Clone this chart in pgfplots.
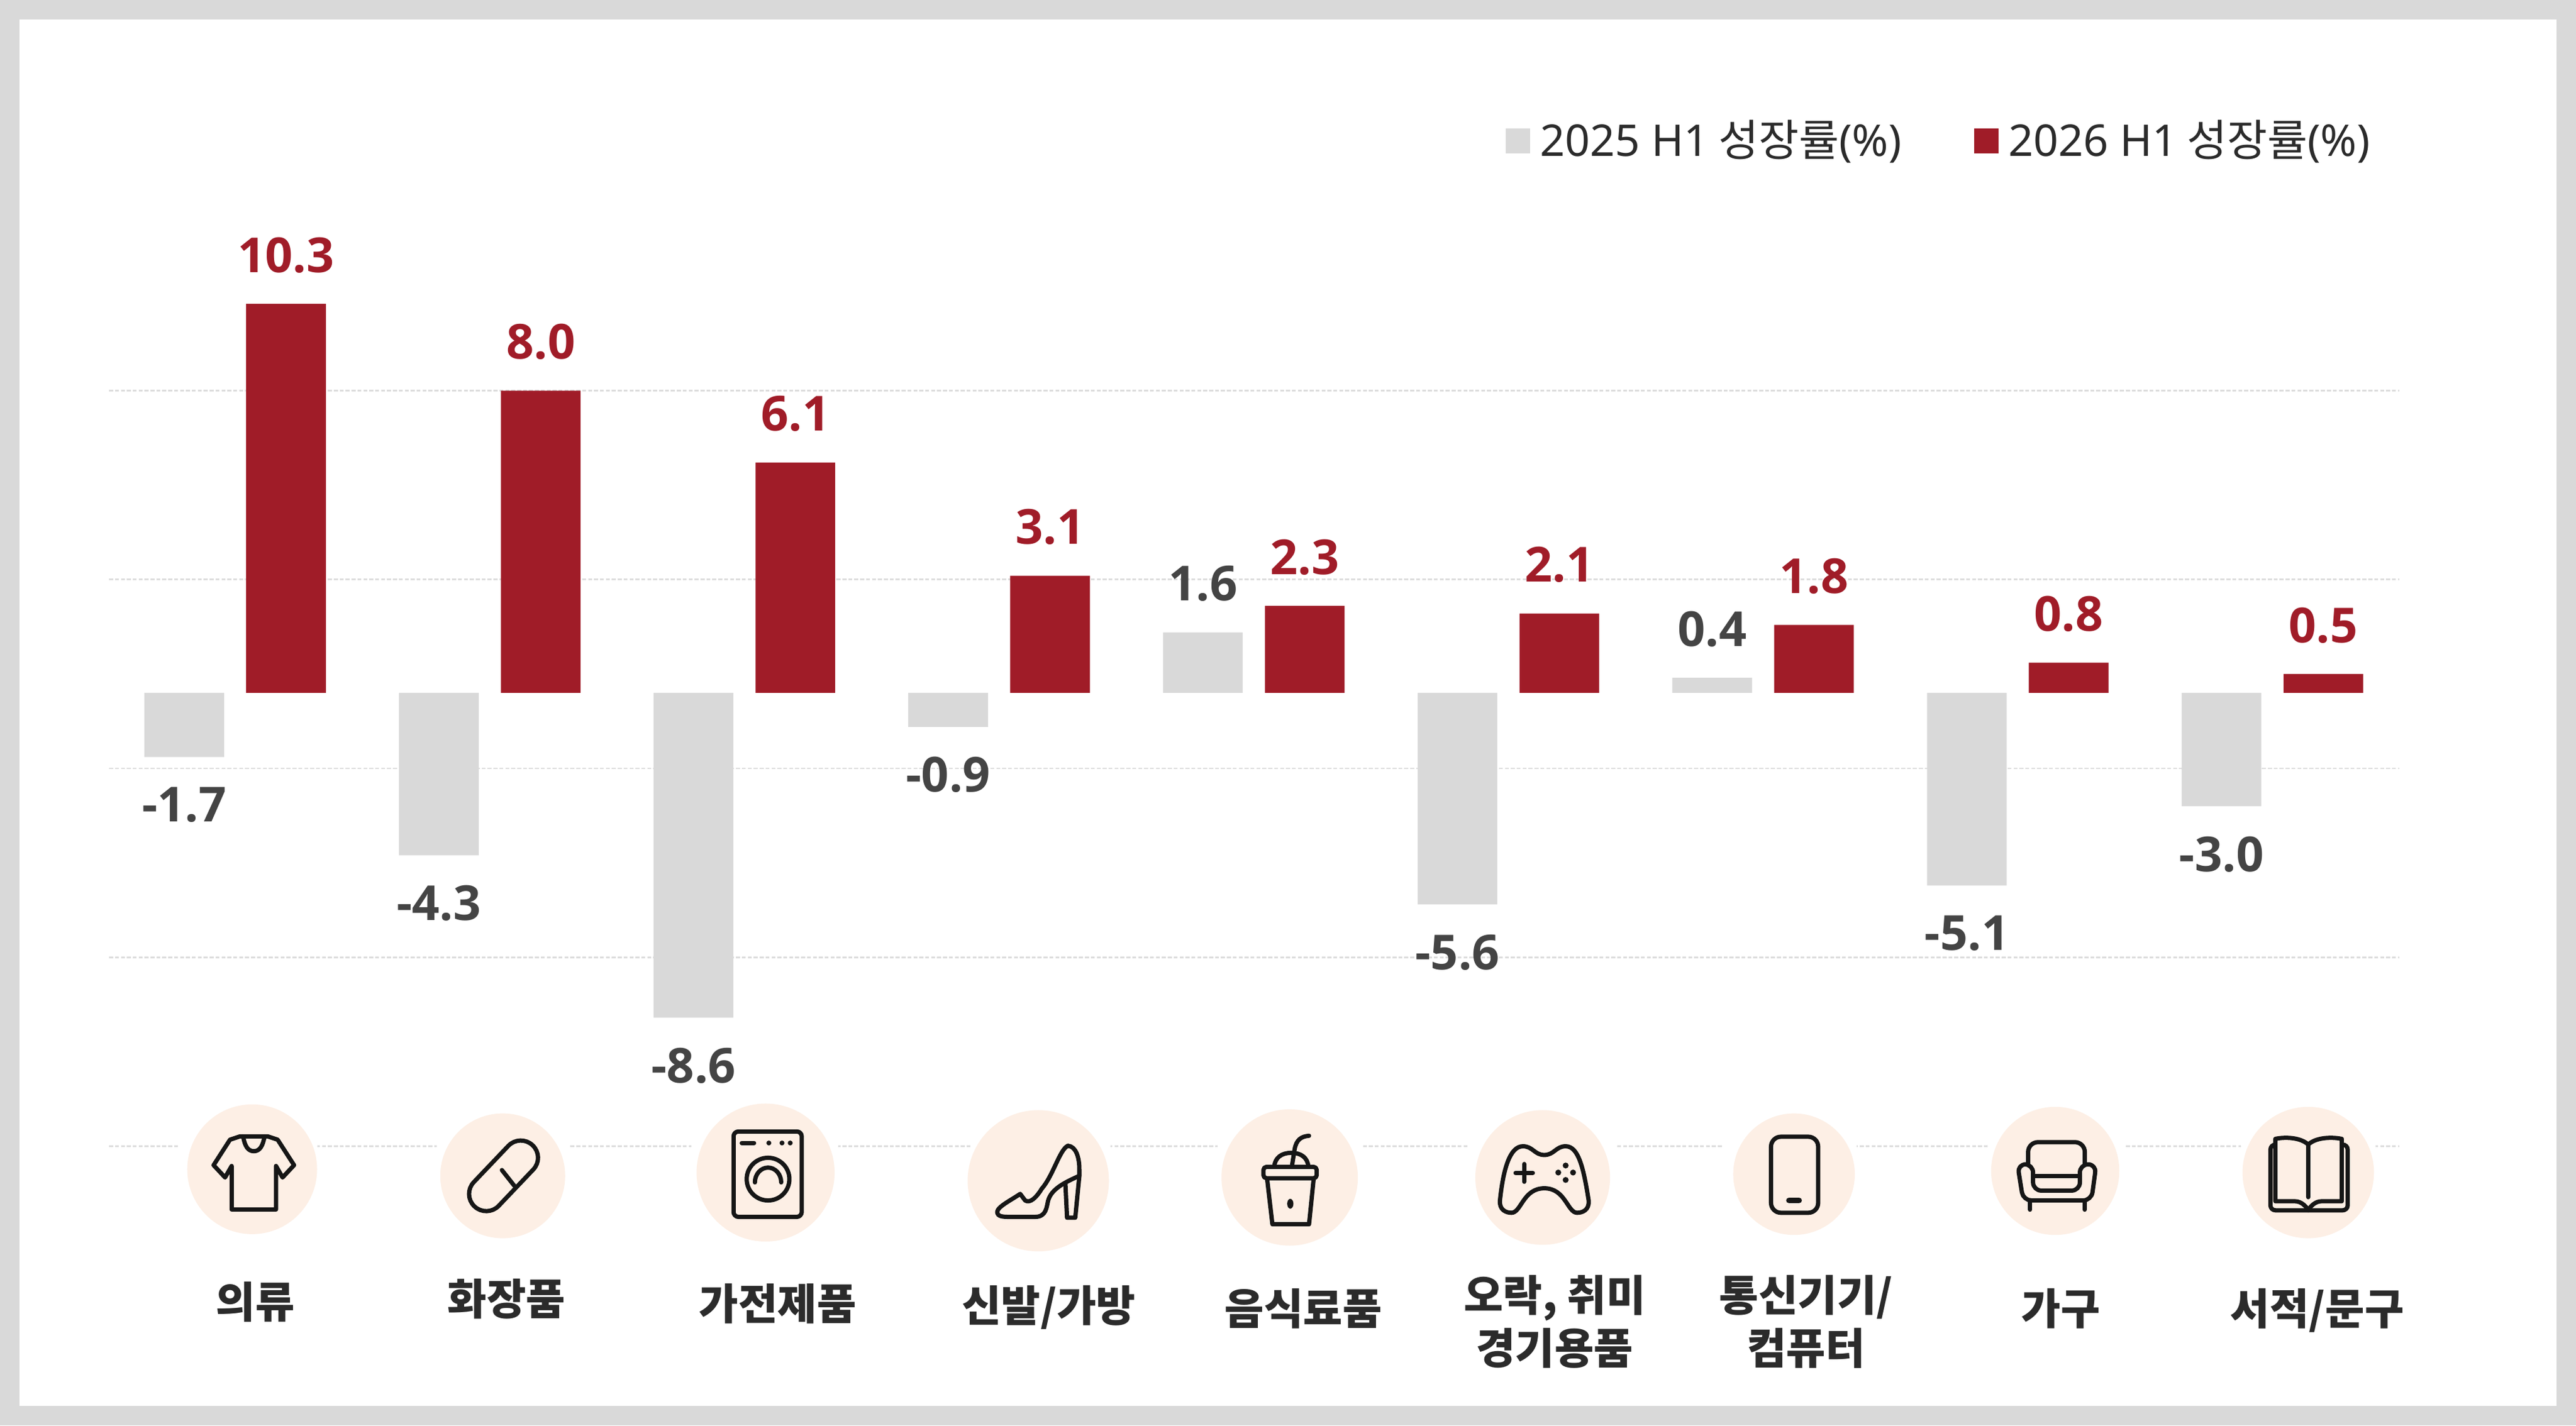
\documentclass[border=0pt]{standalone}
\usepackage{fontspec}
\usepackage{pgfplots}
\pgfplotsset{compat=1.18}
\setmainfont{Noto Sans CJK KR}
\newfontfamily\latinfont{Noto Sans}
\newfontfamily\valfont{Open Sans}
\definecolor{barred}{HTML}{A01C28}
\definecolor{bargray}{HTML}{D9D9D9}
\definecolor{peach}{HTML}{FDEFE5}
\definecolor{gridgray}{HTML}{DDDDDD}
\definecolor{txt}{HTML}{2B2B2B}
\definecolor{valgray}{HTML}{444444}
\definecolor{ink}{HTML}{161616}
\newcommand\dn[1]{\rule{0pt}{#1pt}}
\begin{document}
\begin{tikzpicture}
% frame, coordinates are pixels of a 1568x868 canvas
\begin{scope}[x=.5pt,y=-.5pt]
\fill[bargray] (0,0) rectangle (1568,868);
\fill[white] (12,12) rectangle (1556,856);
\end{scope}
\begin{axis}[
  at={(33.2pt,-350.1pt)}, anchor=south west,
  scale only axis, width=697pt, height=232.3pt,
  xmin=-0.495, xmax=8.498, ymin=-12.1, ymax=8.1,
  clip=false,
  axis line style={draw=none},
  major tick length=0pt,
  ytick={-12,-7,-2,3,8}, yticklabels={},
  ymajorgrids,
  grid style={gridgray, line width=.5pt, dash pattern=on 1.2pt off .6pt},
  xtick={0.079,1.066,2.131,3.195,4.195,5.182,6.169,7.169,8.176},
  xticklabels={
    {\dn{20}의류},{\dn{19}화장품},{\dn{20.5}가전제품},{\dn{21}신발/가방},{\dn{22}음식료품},
    {\dn{18}오락, 취미\\경기용품},{\dn{18}통신기기/\\컴퓨터},{\dn{22}가구},{\dn{22}서적/문구}},
  xticklabel style={anchor=north, inner sep=0pt, yshift=-31pt, align=center, text=txt,
    font=\bfseries\fontsize{13}{16}\selectfont},
  ybar, bar width=24.25pt,
  nodes near coords={\pgfmathprintnumber[fixed,fixed zerofill,precision=1,assume math mode=true]{\pgfplotspointmeta}},
  every node near coord/.append style={font=\valfont\bfseries\fontsize{14.7}{16}\selectfont, inner sep=9pt, text depth=.4pt},
  legend style={at={(0.6095,1.3225)}, anchor=west, draw=none, fill=none, inner sep=0pt,
    legend columns=2, font=\fontsize{13.3}{15}\selectfont, text=txt,
    /tikz/every even column/.append style={column sep=20pt}},
  legend cell align=left,
  legend image code/.code={\fill[#1,draw=none] (0pt,-3.75pt) rectangle (7.5pt,3.75pt);},
]
\addplot[fill=bargray, draw=none, bar shift=-15.5pt,
  every node near coord/.append style={text=valgray}] coordinates {
  (0,-1.7) (1,-4.3) (2,-8.6) (3,-0.9) (4,1.6) (5,-5.6) (6,0.4) (7,-5.1) (8,-3.0)
};
\addlegendentry{\hspace{1pt}{\latinfont 2025 H1} 성장률{\latinfont (\%)}}
\addplot[fill=barred, draw=none, bar shift=15.5pt,
  every node near coord/.append style={text=barred}] coordinates {
  (0,10.3) (1,8.0) (2,6.1) (3,3.1) (4,2.3) (5,2.1) (6,1.8) (7,0.8) (8,0.5)
};
\addlegendentry{\hspace{1pt}{\latinfont 2026 H1} 성장률{\latinfont (\%)}}
\end{axis}
% icons over the lowest grid line
\begin{scope}[x=.5pt,y=-.5pt]
\foreach \a/\b in {109/193,266/346,421/510,591/676,741/829,894/984,1048/1130,1211/1294,1364/1446}
  \fill[white] (\a,672) rectangle (\b,722);
\foreach \x/\y/\r in {153.5/712/39.5,306/716/38,466/714/42,632/719/43,785/717/41.5,939/717/41,1092/715/37,1251/713/39,1405/714/40}
  \fill[peach] (\x,\y) circle[radius=\r];
\begin{scope}[draw=ink, line width=1.3pt, line join=round, line cap=round]
% shirt
\draw (146,692) -- (140,694) -- (130,709.5) -- (137,717) -- (141,710) -- (141,736.5) -- (168,736.5) -- (168,710) -- (172,717) -- (179,709.5) -- (169,694) -- (163,692) -- cycle;
\draw (148,692) .. controls (149,698) and (151,701) .. (154.5,701) .. controls (158,701) and (160,698) .. (161,692);
% pill
\draw[rounded corners=5.2pt] (296.4,741.8) -- (331.8,704.6) -- (316.6,690.2) -- (281.2,727.4) -- cycle;
\draw (305.5,712.5) -- (313,722);
% washer
\draw[rounded corners=1.5pt] (446.5,689) rectangle (488,741);
\draw (451.5,696) -- (459,696);
\fill[ink] (468,696) circle[radius=1.5] (476,696) circle[radius=1.5] (481,696) circle[radius=1.5];
\draw (467.5,718) circle[radius=13];
\draw (459.5,720) arc[start angle=180, end angle=360, x radius=8, y radius=9];
% shoe
\draw (650,697.7) .. controls (645,700) and (641,716) .. (634,724) .. controls (631,729) and (627,733) .. (624,731) -- (621,727) .. controls (615,731) and (607,735) .. (607,738) .. controls (607,741) and (611,741) .. (615,741) -- (630,741) .. controls (637,741) and (637,735) .. (638,731) .. controls (640,724) and (648,720) .. (657,716);
\draw (650,697.7) .. controls (655,698) and (657,705) .. (657,712) -- (657,716) -- (654.5,741.5) -- (649.5,741.5) -- (648.5,721);
% cup
\draw[rounded corners=1pt] (769,710.5) rectangle (801.5,717.5);
\draw (775.6,710.5) .. controls (776,705) and (780,702) .. (786,702) .. controls (792,702) and (796,705) .. (796.4,710.5);
\draw (771.3,718) -- (774.5,745.5) -- (796.8,745.5) -- (799.6,718);
\draw (786.4,710) -- (788,700) .. controls (789,694) and (792,692) .. (796.8,691.6);
\fill[ink] (785.4,733) ellipse[x radius=1.9, y radius=3];
% gamepad
\draw (927,698) .. controls (933,698) and (934,703.3) .. (940,703.3) .. controls (946,703.3) and (947,698) .. (953,698) .. controls (961,698) and (964,712) .. (967,731) .. controls (967.5,737) and (963,738.5) .. (960,738.5) .. controls (954,738.5) and (953,723.6) .. (940,723.6) .. controls (927,723.6) and (926,738.5) .. (920,738.5) .. controls (917,738.5) and (912.5,737) .. (913,731) .. controls (915,712) and (919,698) .. (927,698) -- cycle;
\draw (922.5,714.2) -- (933,714.2) (927.7,708.8) -- (927.7,719.6);
\fill[ink] (953,709.7) circle[radius=1.8] (953,718.5) circle[radius=1.8] (948.5,714) circle[radius=1.8] (957.5,714) circle[radius=1.8];
% phone
\draw[rounded corners=3pt] (1078,692.2) rectangle (1106.7,738.5);
\draw[line width=1.8pt] (1089,731) -- (1095,731);
% sofa
\draw[rounded corners=3pt] (1234.5,709.5) -- (1234.5,695.5) -- (1269,695.5) -- (1269,709.5);
\draw (1237.5,716) -- (1266,716);
\draw[rounded corners=2.5pt] (1231.5,731) -- (1228,709) -- (1237.5,709) -- (1237.5,725) -- (1266,725) -- (1266,709) -- (1276,709) -- (1273,731) -- cycle;
\draw (1235.7,731) -- (1235.7,736.6) (1268.9,731) -- (1268.9,736.6);
% book
\draw (1405,697) .. controls (1401,693) and (1392,692) .. (1385,693.5) -- (1385,731.5) -- (1397,731.5) .. controls (1401,731.5) and (1404,735) .. (1405,737) .. controls (1406,735) and (1409,731.5) .. (1413,731.5) -- (1425.4,731.5) -- (1425.4,693.5) .. controls (1418,692) and (1409,693) .. (1405,697) -- (1405,729);
\draw[rounded corners=1.5pt] (1385,697) -- (1382,697) -- (1382,737) -- (1429,737) -- (1429,697) -- (1425.4,697);
\end{scope}
\end{scope}
\end{tikzpicture}
\end{document}
